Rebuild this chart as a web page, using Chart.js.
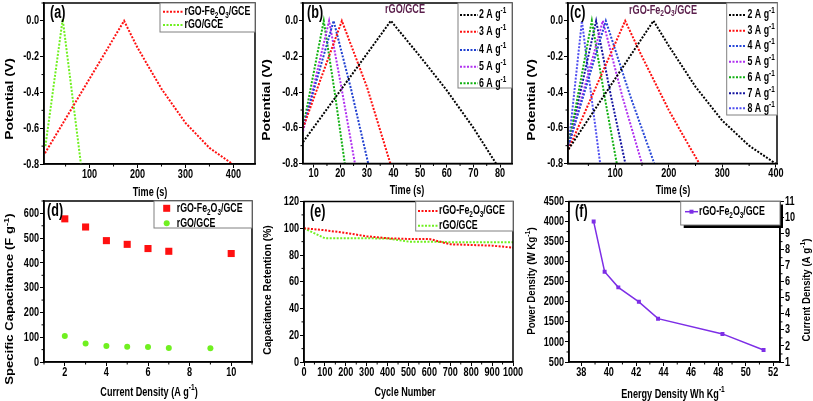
<!DOCTYPE html>
<html>
<head>
<meta charset="utf-8">
<script src="https://cdn.jsdelivr.net/npm/chart.js@4.4.1/dist/chart.umd.min.js"></script>
<style>
html, body { margin: 0; padding: 0; background: #fff; }
body { width: 813px; height: 401px; position: relative; overflow: hidden; }
canvas { position: absolute; }
</style>
</head>
<body>
<canvas id="pa"></canvas>
<canvas id="pb"></canvas>
<canvas id="pc"></canvas>
<canvas id="pd"></canvas>
<canvas id="pe"></canvas>
<canvas id="pf"></canvas>
<script>
// (a) charge-discharge at 2 A/g
const aFeTime = [7, 172, 200, 250, 300, 350, 398];
const aFePot = [-0.74, 0, -0.15, -0.38, -0.57, -0.71, -0.8];
const aGoTime = [8, 44, 82];
const aGoPot = [-0.7, 0.01, -0.8];

// (b) rGO/GCE at different current densities
const bRates = ['2', '3', '4', '5', '6'];
const b2Time = [6, 39, 50, 60, 70, 78.5];
const b2Pot = [-0.68, 0, -0.2, -0.39, -0.6, -0.8];
const b3Time = [6, 20.6, 30, 38.8];
const b3Pot = [-0.6, 0, -0.37, -0.8];
const b4Time = [6, 17.5, 24, 30.5];
const b4Pot = [-0.6, 0, -0.38, -0.8];
const b5Time = [6, 15.8, 20.5, 25.5];
const b5Pot = [-0.62, 0, -0.38, -0.8];
const b6Time = [6, 13.8, 17.7, 21.7];
const b6Pot = [-0.6, 0, -0.38, -0.8];

// (c) rGO-Fe2O3/GCE at different current densities
const cRates = ['2', '3', '4', '5', '6', '7', '8'];
const c2Time = [13, 171.5, 200, 250, 300, 350, 399];
const c2Pot = [-0.72, 0, -0.14, -0.37, -0.56, -0.7, -0.8];
const c3Time = [13, 118.7, 150, 200, 230, 257];
const c3Pot = [-0.72, 0, -0.2, -0.5, -0.66, -0.8];
const c4Time = [13, 82.6, 128, 173];
const c4Pot = [-0.7, 0, -0.42, -0.8];
const c5Time = [13, 77, 113, 150];
const c5Pot = [-0.7, 0, -0.42, -0.8];
const c6Time = [13, 56.5, 80, 103];
const c6Pot = [-0.7, 0, -0.42, -0.8];
const c7Time = [13, 64.5, 92, 119];
const c7Pot = [-0.7, 0, -0.42, -0.8];
const c8Time = [13, 38, 55, 72];
const c8Pot = [-0.7, 0, -0.41, -0.8];

// (d) specific capacitance
const dFeCurrent = [2, 3, 4, 5, 6, 7, 10];
const dFeCap = [578, 545, 490, 475, 458, 447, 438];
const dGoCurrent = [2, 3, 4, 5, 6, 7, 9];
const dGoCap = [105, 75, 65, 62, 61, 57, 56];

// (e) cycling stability
const eCycles = [0, 100, 200, 300, 400, 500, 600, 700, 800, 900, 1000];
const eFeRet = [100, 98.5, 96.5, 94, 92.5, 92, 92, 88, 87.5, 87, 85.5];
const eGoRet = [100, 92.5, 92.5, 92.5, 92.3, 90, 90, 89.5, 89.5, 89.5, 89.5];

// (f) Ragone plot
const fEnergy = [38.9, 39.7, 40.7, 42.2, 43.6, 48.3, 51.3];
const fPower = [4000, 2750, 2360, 2000, 1580, 1200, 800];

const FONT = "'Liberation Sans', Arial, sans-serif";
const QH = 0.7;   // horizontal text in the picture is squeezed
const QV = 0.8;   // rotated titles a bit less
const RED = '#ff1010', GREEN = '#70f020', HEAD = '#5a1e4b', PURPLE = '#7d2ee6';

function pts(xs, ys) {
    return xs.map((x, i) => ({ x: x, y: ys[i] }));
}

function tickVals(min, max, step) {
    const out = [];
    for (let v = Math.ceil(min / step - 1e-9) * step; v <= max + 1e-9; v += step) {
        out.push(Math.round(v * 1e6) / 1e6);
    }
    return out;
}

function parseRich(s) {
    const out = [];
    const re = /_\{([^}]*)\}|\^\{([^}]*)\}|([^_^]+)/g;
    let m;
    while ((m = re.exec(s))) {
        if (m[1] !== undefined) out.push([m[1], 'sub']);
        else if (m[2] !== undefined) out.push([m[2], 'sup']);
        else out.push([m[3], '']);
    }
    return out;
}

// text with sub/superscripts, squeezed like the picture; rot = rotated title, len squeezes along its length
function drawRich(ctx, s, x, y, size, align, rot, len) {
    const parts = parseRich(String(s));
    ctx.save();
    ctx.translate(x, y);
    if (rot) {
        ctx.scale(QV, len || 1);
        ctx.rotate(-Math.PI / 2);
    } else {
        ctx.scale(QH, 1);
    }
    let w = 0;
    parts.forEach(([t, k]) => {
        ctx.font = 'bold ' + (k ? size * 0.72 : size) + 'px ' + FONT;
        w += ctx.measureText(t).width;
    });
    let cx = align === 'center' ? -w / 2 : align === 'right' ? -w : 0;
    ctx.textBaseline = 'middle';
    ctx.textAlign = 'left';
    parts.forEach(([t, k]) => {
        ctx.font = 'bold ' + (k ? size * 0.72 : size) + 'px ' + FONT;
        const dy = k === 'sub' ? size * 0.3 : k === 'sup' ? -size * 0.32 : 0;
        ctx.fillText(t, cx, dy);
        cx += ctx.measureText(t).width;
    });
    ctx.restore();
}

function minorTicks(ctx, sc) {
    const t = sc.ticks.map(k => k.value);
    if (t.length < 2) return;
    const step = (t[1] - t[0]) / 2;
    ctx.beginPath();
    for (let v = t[0] - step * Math.floor((t[0] - sc.min) / step + 1e-9); v <= sc.max + 1e-9; v += step) {
        if (t.some(m => Math.abs(m - v) < step * 0.01)) continue;
        const p = sc.getPixelForValue(v);
        if (sc.isHorizontal()) { ctx.moveTo(p, sc.top); ctx.lineTo(p, sc.top + 2.5); }
        else if (sc.position === 'left') { ctx.moveTo(sc.right, p); ctx.lineTo(sc.right - 2.5, p); }
        else { ctx.moveTo(sc.left, p); ctx.lineTo(sc.left + 2.5, p); }
    }
    ctx.stroke();
}

function tickLabels(ctx, sc, fmt) {
    ctx.fillStyle = '#000';
    sc.ticks.forEach(k => {
        const p = sc.getPixelForValue(k.value);
        const txt = fmt(k.value);
        if (sc.isHorizontal()) drawRich(ctx, txt, p, sc.top + 10, 13, 'center');
        else if (sc.position === 'left') drawRich(ctx, txt, sc.right - 5, p, 13, 'right');
        else drawRich(ctx, txt, sc.left + 5, p, 13, 'left');
    });
}

const decor = {
    id: 'decor',
    afterDraw(chart, args, o) {
        const ctx = chart.ctx, a = chart.chartArea;
        const ox = o.ox, oy = o.oy;
        ctx.save();
        ctx.strokeStyle = '#000';
        ctx.lineWidth = 1;
        Object.values(chart.scales).forEach(sc => minorTicks(ctx, sc));
        ctx.lineWidth = 1.5;
        ctx.strokeRect(a.left, a.top, a.right - a.left, a.bottom - a.top);

        Object.keys(chart.scales).forEach(key => tickLabels(ctx, chart.scales[key], o.fmt[key] || (v => v)));

        ctx.fillStyle = '#000';
        o.titles.forEach(t => drawRich(ctx, t.text, t.x - ox, t.y - oy, t.size, 'center', t.rot, t.len));
        drawRich(ctx, o.tag[0], o.tag[1] - ox, o.tag[2] - oy, 18);
        if (o.head) {
            ctx.fillStyle = HEAD;
            drawRich(ctx, o.head[0], o.head[1] - ox, o.head[2] - oy, 13, 'center');
        }

        const lg = o.legend;
        const [x1, y1, x2, y2] = lg.box;
        if (lg.shadow) {
            ctx.fillStyle = '#000';
            ctx.fillRect(x1 - ox + 3, y1 - oy + 3, x2 - x1, y2 - y1);
        }
        ctx.fillStyle = '#fff';
        ctx.fillRect(x1 - ox, y1 - oy, x2 - x1, y2 - y1);
        ctx.strokeStyle = '#808080';
        ctx.lineWidth = 1;
        ctx.strokeRect(x1 - ox, y1 - oy, x2 - x1, y2 - y1);
        lg.rows.forEach(r => {
            const y = r.y - oy;
            ctx.strokeStyle = r.color;
            ctx.fillStyle = r.color;
            if (lg.kind === 'dash' || lg.kind === 'lineRect') {
                ctx.lineWidth = lg.kind === 'dash' ? 2 : 1.5;
                ctx.setLineDash(lg.kind === 'dash' ? [2, 1.5] : []);
                ctx.beginPath();
                ctx.moveTo(lg.sx[0] - ox, y);
                ctx.lineTo(lg.sx[1] - ox, y);
                ctx.stroke();
                ctx.setLineDash([]);
                if (lg.kind === 'lineRect') {
                    const mx = (lg.sx[0] + lg.sx[1]) / 2 - ox;
                    ctx.fillRect(mx - 2, y - 2, 4, 4);
                }
            } else if (r.shape === 'rect') {
                ctx.fillRect(lg.sx[0] - ox - 3.5, y - 3.5, 7, 7);
            } else {
                ctx.beginPath();
                ctx.arc(lg.sx[0] - ox, y, 3, 0, Math.PI * 2);
                ctx.fill();
            }
            ctx.fillStyle = '#000';
            drawRich(ctx, r.text, lg.tx - ox, y, 12.6);
        });
        ctx.restore();
    }
};

function axis(o) {
    const vals = tickVals(o.min, o.max, o.step);
    return {
        type: 'linear',
        position: o.pos,
        min: o.min,
        max: o.max,
        afterFit: s => { if (s.isHorizontal()) s.height = o.size; else s.width = o.size; },
        afterBuildTicks: s => { s.ticks = vals.map(v => ({ value: v })); },
        border: { display: true, color: '#000', width: 1.5 },
        grid: { display: true, drawOnChartArea: false, drawTicks: true, tickLength: 4, color: '#000', tickWidth: 1 },
        ticks: { display: false },
        title: { display: false }
    };
}

const fmt1 = v => (Math.abs(v) < 1e-9 ? 0 : v).toFixed(1);

function panel(id, box, area, type, datasets, xo, yo, y2o, deco) {
    const cv = document.getElementById(id);
    cv.width = box.w;
    cv.height = box.h;
    cv.style.left = box.x + 'px';
    cv.style.top = box.y + 'px';
    const scales = {
        x: axis(Object.assign({ pos: 'bottom', size: box.y + box.h - area.b }, xo)),
        y: axis(Object.assign({ pos: 'left', size: area.l - box.x }, yo))
    };
    if (y2o) scales.y2 = axis(Object.assign({ pos: 'right', size: box.x + box.w - area.r }, y2o));
    deco.ox = box.x;
    deco.oy = box.y;
    deco.fmt = { x: xo.fmt, y: yo.fmt, y2: y2o ? y2o.fmt : null };
    new Chart(cv, {
        type: type,
        data: { datasets: datasets },
        plugins: [decor],
        options: {
            responsive: false,
            animation: false,
            devicePixelRatio: 1,
            layout: { padding: { left: 0, bottom: 0, top: area.t - box.y, right: y2o ? 0 : box.x + box.w - area.r } },
            plugins: { legend: { display: false }, tooltip: { enabled: false }, decor: deco },
            scales: scales
        }
    });
}

function dotted(data, color) {
    return { data: data, borderColor: color, borderWidth: 2, borderDash: [2, 1.5], pointRadius: 0, tension: 0, fill: false };
}

const bColors = ['#000000', '#ff1010', '#2040d0', '#b030f0', '#10b010'];
const cColors = ['#000000', '#ff1010', '#2848d8', '#b030f0', '#10b010', '#1414a0', '#5050f0'];

// (a)
panel('pa', { x: 0, y: 0, w: 265, h: 200 }, { l: 44, t: 3, r: 255, b: 164 }, 'line',
    [dotted(pts(aFeTime, aFePot), RED), dotted(pts(aGoTime, aGoPot), GREEN)],
    { min: 5, max: 445, step: 100 },
    { min: -0.8, max: 0.1, step: 0.2, fmt: fmt1 }, null,
    {
        tag: ['(a)', 50, 13],
        titles: [{ text: 'Time (s)', x: 150, y: 192, size: 13 },
                 { text: 'Potential (V)', x: 10, y: 99, size: 14, rot: true }],
        legend: {
            kind: 'dash', box: [160, 3, 255, 32], sx: [163, 183], tx: 184.5,
            rows: [{ y: 11.7, color: RED, text: 'rGO-Fe_{2}O_{3}/GCE' }, { y: 25, color: GREEN, text: 'rGO/GCE' }]
        }
    });

// (b)
const bSets = [pts(b2Time, b2Pot), pts(b3Time, b3Pot), pts(b4Time, b4Pot), pts(b5Time, b5Pot), pts(b6Time, b6Pot)];
const bRows = [15, 31.7, 50, 66.7, 83.3];
panel('pb', { x: 258, y: 0, w: 265, h: 200 }, { l: 303, t: 3, r: 512, b: 163.5 }, 'line',
    bSets.map((d, i) => dotted(d, bColors[i])),
    { min: 6, max: 84.5, step: 10 },
    { min: -0.8, max: 0.1, step: 0.2, fmt: fmt1 }, null,
    {
        tag: ['(b)', 307, 13],
        head: ['rGO/GCE', 405, 9],
        titles: [{ text: 'Time (s)', x: 407, y: 190, size: 13 },
                 { text: 'Potential (V)', x: 267, y: 100, size: 14, rot: true }],
        legend: {
            kind: 'dash', box: [458, 3, 512, 88], sx: [460, 478], tx: 479,
            rows: bRates.map((r, i) => ({ y: bRows[i], color: bColors[i], text: r + ' A g^{-1}' }))
        }
    });

// (c)
const cSets = [pts(c2Time, c2Pot), pts(c3Time, c3Pot), pts(c4Time, c4Pot), pts(c5Time, c5Pot),
    pts(c6Time, c6Pot), pts(c7Time, c7Pot), pts(c8Time, c8Pot)];
const cRows = [15, 30.7, 46, 61.7, 77.3, 93.3, 108.3];
panel('pc', { x: 523, y: 0, w: 290, h: 200 }, { l: 568, t: 3, r: 777, b: 163.5 }, 'line',
    cSets.map((d, i) => dotted(d, cColors[i])),
    { min: 12, max: 402, step: 100 },
    { min: -0.8, max: 0.1, step: 0.2, fmt: fmt1 }, null,
    {
        tag: ['(c)', 570, 13],
        head: ['rGO-Fe_{2}O_{3}/GCE', 663, 10],
        titles: [{ text: 'Time (s)', x: 673, y: 190, size: 13 },
                 { text: 'Potential (V)', x: 531.7, y: 100, size: 14, rot: true }],
        legend: {
            kind: 'dash', box: [726.7, 3, 777.3, 115], sx: [729, 746], tx: 747.5,
            rows: cRates.map((r, i) => ({ y: cRows[i], color: cColors[i], text: r + ' A g^{-1}' }))
        }
    });

// (d)
panel('pd', { x: 0, y: 192, w: 265, h: 209 }, { l: 44, t: 201, r: 252, b: 362 }, 'scatter',
    [
        { data: pts(dFeCurrent, dFeCap), pointStyle: 'rect', pointRadius: 5, backgroundColor: RED, borderWidth: 0 },
        { data: pts(dGoCurrent, dGoCap), pointStyle: 'circle', pointRadius: 3, backgroundColor: GREEN, borderWidth: 0 }
    ],
    { min: 1, max: 11, step: 2 },
    { min: 0, max: 650, step: 100 }, null,
    {
        tag: ['(d)', 47, 211.5],
        titles: [{ text: 'Current Density (A g^{-1})', x: 149, y: 392, size: 13 },
                 { text: 'Specific Capacitance (F g^{-1})', x: 10, y: 299, size: 13.1, rot: true }],
        legend: {
            kind: 'marker', box: [154, 201, 252, 228], sx: [166.7], tx: 176.7,
            rows: [{ y: 208.3, color: RED, shape: 'rect', text: 'rGO-Fe_{2}O_{3}/GCE' },
                   { y: 223.3, color: GREEN, shape: 'circle', text: 'rGO/GCE' }]
        }
    });

// (e)
panel('pe', { x: 258, y: 192, w: 270, h: 209 }, { l: 304, t: 201.5, r: 513, b: 362 }, 'line',
    [dotted(pts(eCycles, eFeRet), RED), dotted(pts(eCycles, eGoRet), GREEN)],
    { min: 0, max: 1000, step: 100 },
    { min: 0, max: 120, step: 20 }, null,
    {
        tag: ['(e)', 310, 212.5],
        titles: [{ text: 'Cycle Number', x: 405, y: 392, size: 13 },
                 { text: 'Capacitance Retention (%)', x: 268, y: 290, size: 13, rot: true, len: 0.79 }],
        legend: {
            kind: 'dash', box: [415.7, 201.5, 513, 231], sx: [418, 438], tx: 439,
            rows: [{ y: 211, color: RED, text: 'rGO-Fe_{2}O_{3}/GCE' }, { y: 225.7, color: GREEN, text: 'rGO/GCE' }]
        }
    });

// (f)
panel('pf', { x: 523, y: 192, w: 290, h: 209 }, { l: 569, t: 201.5, r: 780, b: 362 }, 'line',
    [{ data: pts(fEnergy, fPower), borderColor: PURPLE, borderWidth: 1.5, pointStyle: 'rect', pointRadius: 2.8,
       backgroundColor: PURPLE, pointBorderWidth: 0, tension: 0 }],
    { min: 37.1, max: 52.5, step: 2 },
    { min: 500, max: 4500, step: 500 },
    { min: 1, max: 11, step: 1 },
    {
        tag: ['(f)', 575, 212],
        titles: [{ text: 'Energy Density Wh Kg^{-1}', x: 673, y: 394, size: 13 },
                 { text: 'Power Density (W Kg^{-1})', x: 531.7, y: 281, size: 13, rot: true, len: 0.75 },
                 { text: 'Current Density (A g^{-1})', x: 806.7, y: 290, size: 13, rot: true, len: 0.74 }],
        legend: {
            kind: 'lineRect', shadow: true, box: [680.7, 201.5, 780, 225], sx: [685, 698], tx: 699,
            rows: [{ y: 211.7, color: PURPLE, text: 'rGO-Fe_{2}O_{3}/GCE' }]
        }
    });
</script>
</body>
</html>
